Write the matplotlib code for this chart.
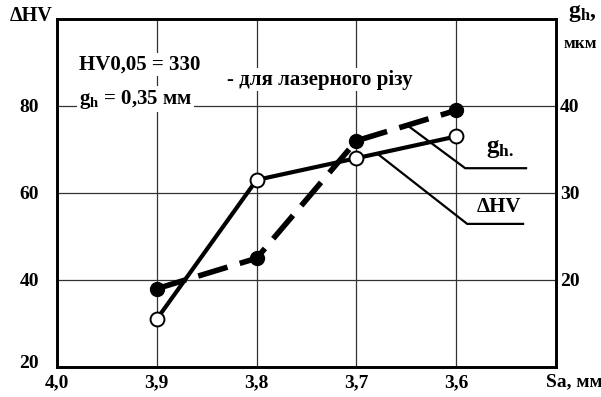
import matplotlib
matplotlib.use('Agg')
import matplotlib.pyplot as plt
import matplotlib.transforms as mtransforms
import numpy as np

# Sa, mm (x axis is reversed: 4,0 -> 3,5)
sa = [3.9, 3.8, 3.7, 3.6]
delta_hv = [31, 63, 68, 73]      # left axis, solid line, open circles
g_h = [19, 22.5, 36, 39.5]       # right axis, dashed line, filled circles

x_ticks = [4.0, 3.9, 3.8, 3.7, 3.6]
x_tick_labels = ['4,0', '3,9', '3,8', '3,7', '3,6']
hv_ticks = [20, 40, 60, 80]
gh_ticks = [20, 30, 40]

plt.rcParams['font.family'] = ['Liberation Serif', 'DejaVu Serif']
plt.rcParams['font.weight'] = 'bold'
plt.rcParams['mathtext.fontset'] = 'custom'
plt.rcParams['mathtext.rm'] = 'Liberation Serif:bold'
plt.rcParams['mathtext.it'] = 'Liberation Serif:bold'

fig = plt.figure(figsize=(6.01, 3.97), dpi=100)
ax = fig.add_axes([57 / 601, 30 / 397, 499 / 601, 348 / 397])
ax.set_xlim(4.0, 3.5)
ax.set_ylim(20, 100)
ax2 = ax.twinx()
ax2.set_ylim(10, 50)

ax.set_xticks(x_ticks)
ax.set_xticklabels(x_tick_labels)
ax.set_yticks(hv_ticks)
ax2.set_yticks(gh_ticks)
ax.grid(True, color='#333333', lw=0.9)
ax.set_axisbelow(True)
ax.tick_params(axis='x', length=0, pad=5, labelsize=14)
ax.tick_params(axis='y', length=0, pad=13, labelsize=14)
ax2.tick_params(axis='y', length=0, pad=3, labelsize=14)
for a in (ax, ax2):
    for s in a.spines.values():
        s.set_linewidth(1.9)

# lift the lowest left label off the corner, as in the original
lbl = ax.get_yticklabels()[0]
lbl.set_transform(lbl.get_transform() +
                  mtransforms.ScaledTranslation(0, 5 / 100, fig.dpi_scale_trans))

# curves (g_h drawn on ax2 so the right scale is used)
ax2.plot(sa, g_h, color='black', lw=4, dashes=(5.5, 2.3), marker='o',
         ms=10, mfc='black', mec='black', zorder=3)
ax.plot(sa, delta_hv, color='black', lw=3, marker='o', ms=10,
        mfc='white', mec='black', mew=1.4, zorder=4)

# leader lines to the curve labels (left-axis units)
gh_left = [2 * v for v in g_h]
x0 = 3.649
y0 = np.interp(x0, sa[::-1], gh_left[::-1])
ax.plot([x0, 3.591, 3.530], [y0, 65.7, 65.7], color='black', lw=1.6, zorder=2)
x1 = 3.679
y1 = np.interp(x1, sa[::-1], delta_hv[::-1])
ax.plot([x1, 3.589, 3.533], [y1, 52.9, 52.9], color='black', lw=1.6, zorder=2)

white = dict(facecolor='white', edgecolor='none', pad=1)
ax.text(3.542, 67.5, r'$\mathrm{g}_\mathrm{h.}$', fontsize=18, ha='right', va='bottom',
        bbox=white, zorder=5)
ax.text(3.535, 54.5, 'ΔHV', fontsize=15, ha='right', va='bottom',
        bbox=white, zorder=5)

ax.text(3.978, 89.5, 'HV0,05 = 330', fontsize=15, ha='left', va='center',
        bbox=white, zorder=5)
ax.text(3.978, 81.6, r'$\mathrm{g}_\mathrm{h}$ = 0,35 мм', fontsize=15, ha='left',
        va='center', bbox=white, zorder=5)
ax.text(3.83, 86.0, '- для лазерного різу', fontsize=15, ha='left', va='center',
        bbox=white, zorder=5)

# axis titles
fig.text(31 / 601, 1 - 16 / 397, 'ΔHV', fontsize=14.5, ha='center', va='center')
fig.text(582 / 601, 1 - 14 / 397, r'$\mathrm{g}_\mathrm{h}$,', fontsize=17,
         ha='center', va='center')
fig.text(580 / 601, 1 - 44 / 397, 'мкм', fontsize=12.5, ha='center', va='center')
fig.text(574 / 601, 1 - 382 / 397, 'Sa, мм', fontsize=14, ha='center', va='center')

fig.savefig('out.png', dpi=100)
